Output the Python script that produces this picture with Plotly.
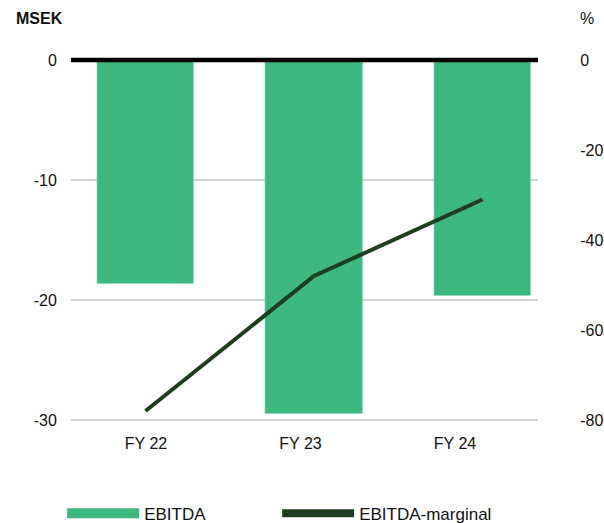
import plotly.graph_objects as go

categories = ["FY 22", "FY 23", "FY 24"]
ebitda_msek = [-18.7, -29.5, -19.7]
ebitda_margin_pct = [-78, -48, -31]
left_ticks = [0, -10, -20, -30]
right_ticks = [0, -20, -40, -60, -80]

BAR = "#3DB980"
LINE = "#1E3E1F"
FONT = "Liberation Sans"
TXT = "#111111"

fig = go.Figure()
fig.add_trace(go.Bar(x=categories, y=ebitda_msek, marker_color=BAR, width=0.576,
                     showlegend=False, xaxis="x", yaxis="y"))
fig.add_trace(go.Scatter(x=categories, y=ebitda_margin_pct, mode="lines",
                         line=dict(color=LINE, width=4), showlegend=False,
                         xaxis="x", yaxis="y2"))
# legend entries (also anchor the label axis)
fig.add_trace(go.Scatter(x=[None], y=[None], mode="lines", name="EBITDA",
                         line=dict(color=BAR, width=14), xaxis="x2", yaxis="y"))
fig.add_trace(go.Scatter(x=[None], y=[None], mode="lines", name="EBITDA-marginal",
                         line=dict(color=LINE, width=8), xaxis="x2", yaxis="y"))

fig.update_layout(
    width=604, height=523,
    margin=dict(l=71, r=66, t=57, b=100, autoexpand=False),
    paper_bgcolor="white", plot_bgcolor="white",
    font=dict(family=FONT, size=16, color=TXT),
    bargap=0,
    xaxis=dict(type="category", range=[-0.4421, 2.3294], showticklabels=False,
               showgrid=False, zeroline=False, showline=False, automargin=False),
    xaxis2=dict(type="linear", overlaying="x", anchor="y", side="bottom",
                range=[-0.4854, 2.537],
                tickvals=list(range(len(categories))), ticktext=categories,
                showgrid=False, zeroline=False, showline=False, automargin=False,
                ticks="outside", ticklen=6, tickcolor="rgba(0,0,0,0)",
                tickfont=dict(size=16, color=TXT)),
    yaxis=dict(range=[-30.25, 0.25], tickvals=left_ticks,
               ticktext=[str(v) for v in left_ticks], showgrid=True,
               gridcolor="#D2D2D2", gridwidth=1.5, zeroline=False, showline=False,
               automargin=False,
               ticks="outside", ticklen=10, tickcolor="rgba(0,0,0,0)",
               tickfont=dict(size=16, color=TXT)),
    yaxis2=dict(overlaying="y", side="right", range=[-80.667, 0.667],
                tickvals=right_ticks, ticktext=[str(v) for v in right_ticks],
                showgrid=False, zeroline=False, showline=False, automargin=False,
                ticks="outside", ticklen=38, tickcolor="rgba(0,0,0,0)",
                tickfont=dict(size=16, color=TXT)),
    shapes=[dict(type="line", xref="paper", x0=0, x1=1, yref="y", y0=0, y1=0,
                 line=dict(color="black", width=4.5), layer="above")],
    annotations=[
        dict(text="<b>MSEK</b>", xref="paper", yref="paper", x=-0.122, y=1.105,
             xanchor="left", yanchor="middle", showarrow=False,
             font=dict(size=16, color=TXT)),
        dict(text="%", xref="paper", yref="paper", x=1.085, y=1.105,
             xanchor="left", yanchor="middle", showarrow=False,
             font=dict(size=16, color=TXT)),
    ],
    legend=dict(orientation="h", x=-0.019, xanchor="left", y=-0.248, yanchor="middle",
                itemwidth=72, entrywidth=128, font=dict(size=17, color=TXT),
                bgcolor="rgba(0,0,0,0)"),
)

fig.write_html("out.html", config={"displayModeBar": False},
               post_script="document.body.style.margin='0';document.body.style.padding='0';")
